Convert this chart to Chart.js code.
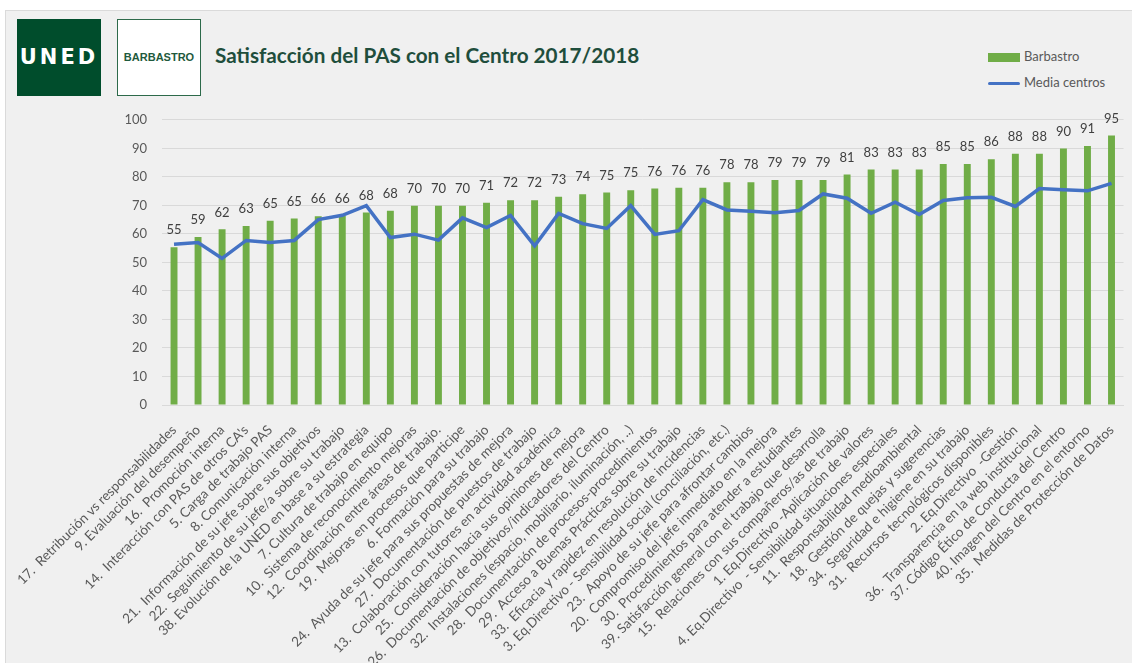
<!DOCTYPE html>
<html>
<head>
<meta charset="utf-8">
<script src="https://cdn.jsdelivr.net/npm/chart.js@4"></script>
<style>
  body { margin: 0; background: #fff; font-family: Lato, "Open Sans", sans-serif; }
  .panel { position: absolute; left: 5px; top: 10px; width: 1127px; height: 653px; background: #f0f0f0; border-left: 1px solid #dadada; border-top: 1px solid #dadada; }
  .uned { position: absolute; left: 17px; top: 19px; width: 84px; height: 77px; background: #004d2c; color: #fff; font: 900 21px "DejaVu Sans", sans-serif; letter-spacing: 3px; line-height: 77px; text-align: center; }
  .barb { position: absolute; left: 117px; top: 19px; width: 82px; height: 75px; background: #fff; border: 1px solid #2d6a4a; color: #1f5a3c; font: bold 11px "Liberation Sans Narrow", "Liberation Sans", sans-serif; line-height: 75px; text-align: center; }
  .title { position: absolute; left: 215px; top: 43px; color: #1f4e3c; font: bold 20.7px Lato, sans-serif; white-space: nowrap; }
  .legend { position: absolute; left: 988px; top: 46px; color: #595959; font: 13px Lato, sans-serif; }
  .legend div { height: 26px; line-height: 20px; white-space: nowrap; }
  .sw { display: inline-block; width: 32px; vertical-align: middle; margin-right: 4px; }
  .wrap { position: absolute; left: 0; top: 97px; width: 1132px; height: 566px; }
</style>
</head>
<body>
<div class="panel"></div>
<div class="uned">UNED</div>
<div class="barb">BARBASTRO</div>
<div class="title">Satisfacción del PAS con el Centro 2017/2018</div>
<div class="legend">
  <div><span class="sw" style="height:9px;background:#70ad47"></span>Barbastro</div>
  <div><span class="sw" style="height:3px;background:#4472c4;border-radius:2px"></span>Media centros</div>
</div>
<div class="wrap"><canvas id="myChart"></canvas></div>
<script>
const labels = [
  "17.  Retribución vs responsabilidades",
  "9. Evaluación del desempeño",
  "16.  Promoción interna",
  "14.  Interacción con PAS de otros CA's",
  "5. Carga de trabajo PAS",
  "8. Comunicación interna",
  "21.  Información de su jefe sobre sus objetivos",
  "22.  Seguimiento de su jefe/a sobre su trabajo",
  "38. Evolución de la UNED en base a su estrategia",
  "7. Cultura de trabajo en equipo",
  "10.  Sistema de reconocimiento mejoras",
  "12.  Coordinación entre áreas de trabajo.",
  "19.  Mejoras en procesos que participe",
  "6. Formación para su trabajo",
  "24.  Ayuda de su jefe para sus propuestas de mejora",
  "27.  Documentación de puestos de trabajo",
  "13.  Colaboración con tutores en actividad académica",
  "25.  Consideración hacia sus opiniones de mejora",
  "26.  Documentación de objetivos/indicadores del Centro",
  "32.  Instalaciones (espacio, mobiliario, iluminación, ..)",
  "28.  Documentación de procesos-procedimientos",
  "29.  Acceso a Buenas Prácticas sobre su trabajo",
  "33.  Eficacia y rapidez en resolución de incidencias",
  "3. Eq.Directivo - Sensibilidad social (conciliación, etc.)",
  "23.  Apoyo de su jefe para afrontar cambios",
  "20.  Compromiso del jefe inmediato en la mejora",
  "30.  Procedimientos para atender a estudiantes",
  "39. Satisfacción general con el trabajo que desarrolla",
  "15.  Relaciones con sus compañeros/as de trabajo",
  "1. Eq.Directivo -Aplicación de valores",
  "4. Eq.Directivo  - Sensibilidad situaciones especiales",
  "11.  Responsabilidad medioambiental",
  "18.  Gestión de quejas y sugerencias",
  "34.  Seguridad e higiene en su trabajo",
  "31.  Recursos tecnológicos disponibles",
  "2. Eq.Directivo  -Gestión",
  "36.  Transparencia en la web institucional",
  "37. Código Ético de Conducta del Centro",
  "40. Imagen del Centro en el entorno",
  "35.  Medidas de Protección de Datos"
];

const barbastro = [
  55.3, 58.9, 61.6, 62.8, 64.6, 65.4, 66.2, 66.4, 67.5, 68.1,
  69.9, 69.9, 69.9, 70.9, 71.8, 71.8, 73.0, 73.9, 74.5, 75.3,
  75.9, 76.2, 76.2, 78.1, 78.1, 78.9, 78.9, 78.9, 80.8, 82.6,
  82.6, 82.6, 84.5, 84.5, 86.2, 88.1, 88.1, 89.9, 90.8, 94.5
];

const mediaCentros = [
  56.4, 57.0, 51.4, 57.7, 57.0, 57.7, 65.0, 66.5, 69.9, 58.7,
  59.9, 57.8, 65.6, 62.2, 66.5, 55.8, 67.2, 63.6, 61.9, 69.9,
  59.8, 61.1, 72.0, 68.4, 67.9, 67.4, 68.2, 74.0, 72.5, 67.2,
  71.1, 66.8, 71.7, 72.7, 72.8, 69.6, 75.9, 75.5, 75.1, 77.7
];

const yTicks = [0, 10, 20, 30, 40, 50, 60, 70, 80, 90, 100];

// valores encima de las barras
const barLabels = {
  id: "barLabels",
  afterDatasetsDraw(chart) {
    const meta = chart.getDatasetMeta(1);
    const c = chart.ctx;
    c.save();
    c.font = "13px Lato, sans-serif";
    c.fillStyle = "#404040";
    c.textAlign = "center";
    c.textBaseline = "middle";
    meta.data.forEach((bar, i) => {
      c.fillText(Math.round(barbastro[i]), bar.x, bar.y - 17);
    });
    c.restore();
  }
};

const ctx = document.getElementById("myChart").getContext("2d");

const myChart = new Chart(ctx, {
  type: "bar",
  data: {
    labels,
    datasets: [{
      type: "line",
      label: "Media centros",
      data: mediaCentros,
      borderColor: "#4472c4",
      borderWidth: 3.5,
      pointRadius: 0,
      tension: 0,
      order: 0,
    }, {
      label: "Barbastro",
      data: barbastro,
      backgroundColor: "#70ad47",
      barPercentage: 0.6,
      categoryPercentage: 0.48,
      order: 1,
    }],
  },
  options: {
    responsive: true,
    maintainAspectRatio: false,
    animation: false,
    layout: { padding: { top: 9, right: 3 } },
    plugins: {
      legend: { display: false },
      tooltip: { enabled: false },
    },
    scales: {
      x: {
        grid: { display: false },
        border: { color: "#d9d9d9" },
        ticks: {
          color: "#595959",
          font: { family: "Lato", size: 13.5 },
          maxRotation: 45,
          minRotation: 45,
          autoSkip: false,
          padding: 9,
        },
        afterFit(scale) { scale.height = 258; },
      },
      y: {
        min: 0,
        max: 100,
        afterBuildTicks(scale) { scale.ticks = yTicks.map(v => ({ value: v })); },
        grid: { color: "#d9d9d9", drawTicks: false },
        border: { display: false },
        ticks: {
          color: "#595959",
          font: { family: "Lato", size: 13 },
          padding: 15,
        },
        afterFit(scale) { scale.width = 162; },
      },
    },
  },
  plugins: [barLabels],
});
</script>
</body>
</html>
